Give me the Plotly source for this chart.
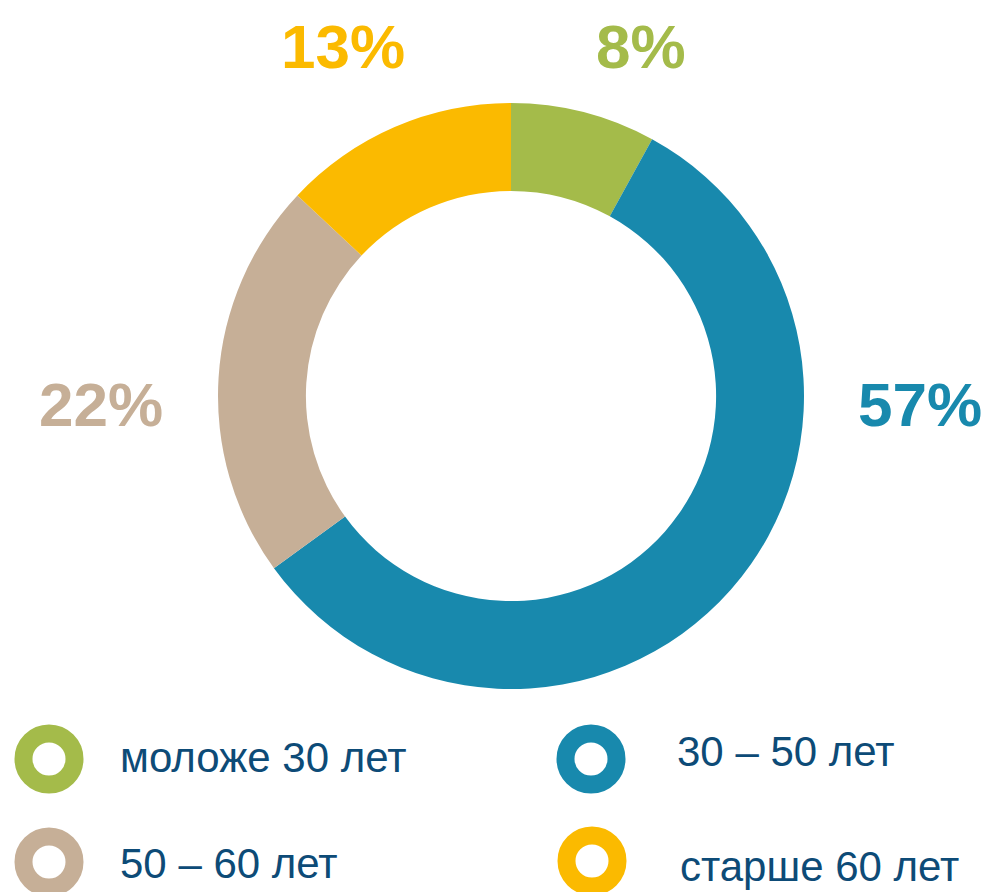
import plotly.graph_objects as go

categories = ["моложе 30 лет", "30 – 50 лет", "50 – 60 лет", "старше 60 лет"]
values = [8, 57, 22, 13]
colors = ["#A4BB4A", "#1889AD", "#C6AF97", "#FBBA00"]

W, H = 982, 892
TEXT_COLOR = "#0D4B77"

fig = go.Figure()
fig.add_trace(go.Pie(
    labels=categories,
    values=values,
    hole=0.70,
    sort=False,
    direction="clockwise",
    rotation=0,
    marker=dict(colors=colors, line=dict(width=0)),
    textinfo="none",
    hoverinfo="label+percent",
    showlegend=False,
    domain=dict(x=[218 / W, 804 / W], y=[1 - 689 / H, 1 - 103 / H]),
))

# percentage labels around the donut
label_pos = [(641, 46), (920, 404), (101, 404), (343, 46)]
for v, c, (px, py) in zip(values, colors, label_pos):
    fig.add_annotation(
        x=px / W, y=1 - py / H, xref="paper", yref="paper",
        text=f"<b>{v}%</b>", showarrow=False,
        xanchor="center", yanchor="middle",
        font=dict(family="Arial, Liberation Sans, sans-serif", size=62, color=c),
    )

# custom legend: rings + labels
marker_pos = [(49, 759), (591, 759), (49, 862), (592, 861)]
text_pos = [(118, 757), (675, 751), (118, 863), (678, 866)]
R = 25.5
for cat, c, (mx, my), (tx, ty) in zip(categories, colors, marker_pos, text_pos):
    fig.add_shape(
        type="circle", xref="paper", yref="paper",
        x0=(mx - R) / W, x1=(mx + R) / W,
        y0=1 - (my + R) / H, y1=1 - (my - R) / H,
        line=dict(color=c, width=18), fillcolor="rgba(0,0,0,0)",
    )
    fig.add_annotation(
        x=tx / W, y=1 - ty / H, xref="paper", yref="paper",
        text=cat, showarrow=False, xanchor="left", yanchor="middle",
        font=dict(family="Arial, Liberation Sans, sans-serif", size=42, color=TEXT_COLOR),
    )

fig.update_layout(
    width=W, height=H,
    margin=dict(l=0, r=0, t=0, b=0),
    paper_bgcolor="white", plot_bgcolor="white",
    showlegend=False,
)

fig.write_html(
    "out.html",
    config={"displayModeBar": False},
    post_script="document.body.style.margin='0';document.body.style.padding='0';document.body.style.overflow='hidden';",
)
